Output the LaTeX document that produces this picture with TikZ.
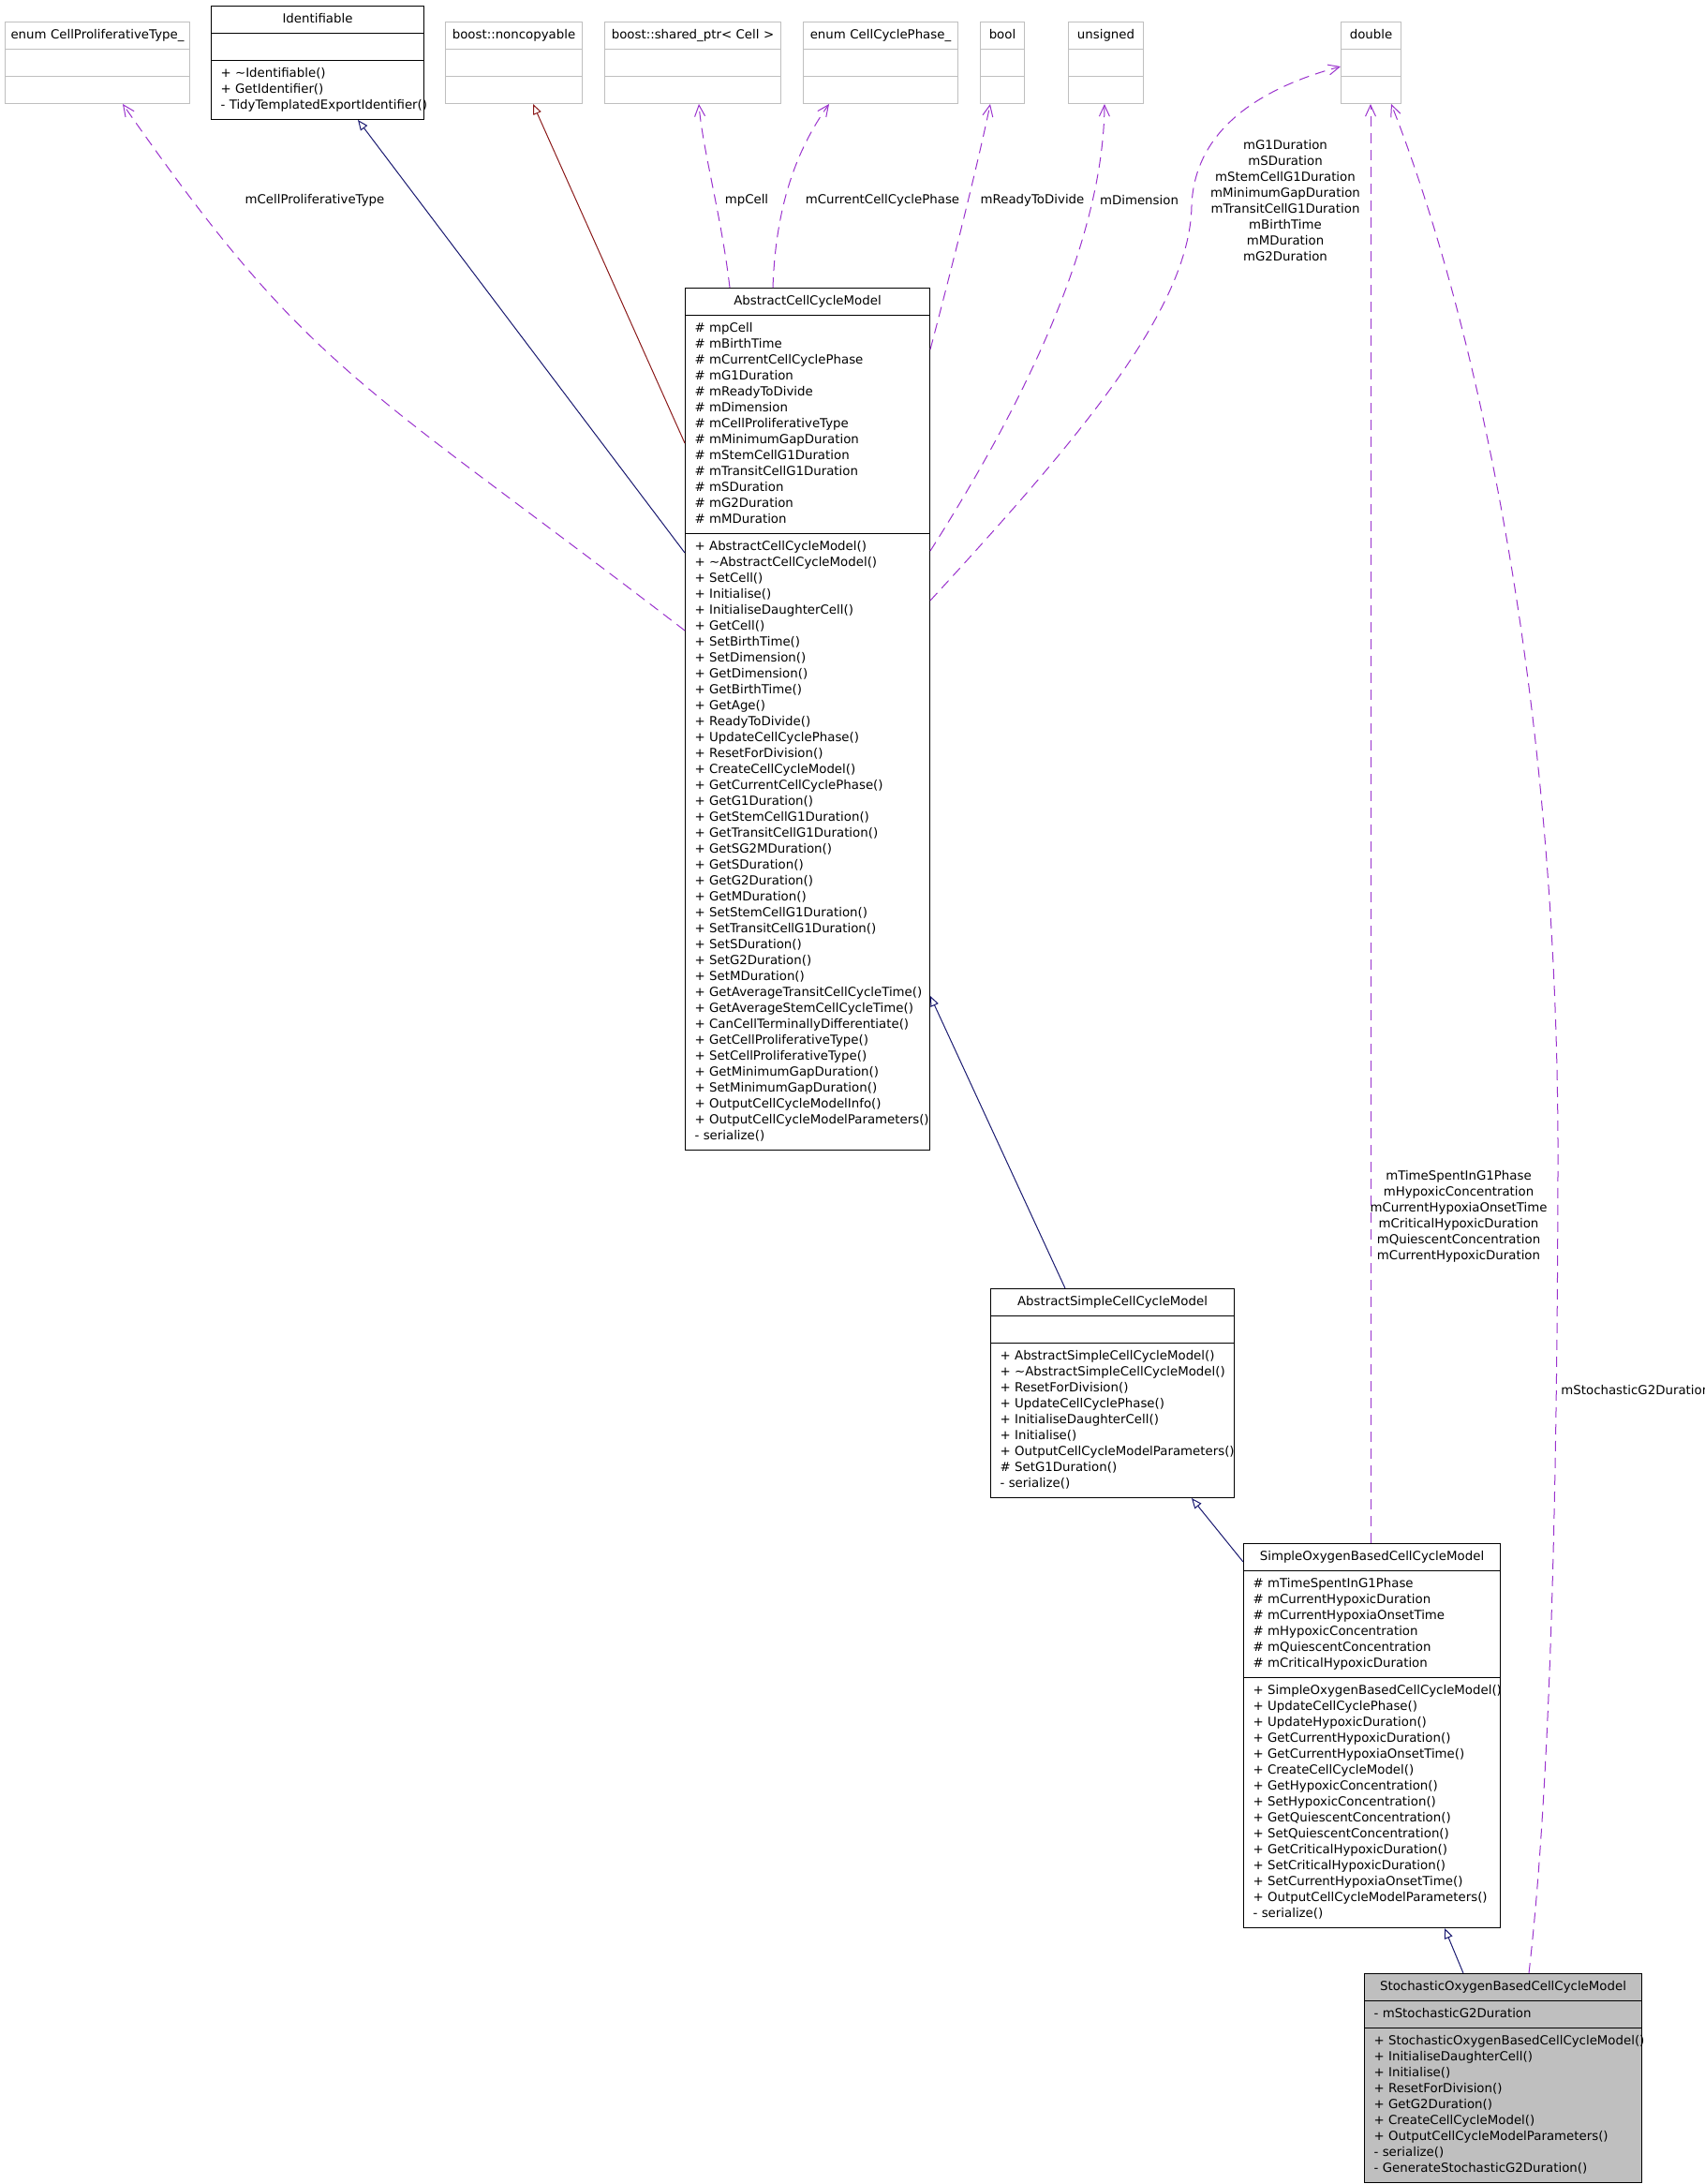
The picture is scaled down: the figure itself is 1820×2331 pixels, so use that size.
\documentclass[tikz,border=0pt]{standalone}
\usepackage{fontspec}
\newfontfamily\dvsans{DejaVu Sans}
\usepackage{xcolor}
\definecolor{midnight}{HTML}{191970}
\definecolor{firebrick}{HTML}{8B1A1A}
\definecolor{orchid}{HTML}{9A32CD}
\definecolor{boxgray}{HTML}{BFBFBF}
\usetikzlibrary{
    shapes.multipart,
    arrows.meta,
    calc
}
\setlength{\parindent}{0pt}
\newcommand\umlfont{\dvsans\fontsize{6.67pt}{8.5pt}\selectfont\hyphenpenalty=10000\exhyphenpenalty=10000}
\newcommand\umltitle[1]{\hbox to\hsize{\hss\strut#1\hss}}
\newcommand\mpub[1]{\strut+~#1}
\newcommand\mpro[1]{\strut\#~#1}
\newcommand\mpri[1]{\strut-~#1}

\begin{document}
\begin{tikzpicture}[
        x=0.5pt, y=-0.5pt,
        class/.style={rectangle split, rectangle split parts=3, draw=black, fill=white, anchor=north west, align=left, inner xsep=5pt, inner ysep=2.75pt, line width=0.5pt, font=\umlfont},
        ext/.style={class, draw=boxgray, inner xsep=4pt},
        focus/.style={class, fill=boxgray},
        pubinh/.style={-{Triangle[open, length=5.5pt, width=4.5pt]}, line width=0.5pt, draw=midnight},
        privinh/.style={pubinh, draw=firebrick},
        rel/.style={-{Straight Barb[length=6pt, width=5.5pt]}, line width=0.5pt, draw=orchid, dash pattern=on 5.5pt off 3.5pt},
        note/.style={font=\umlfont, align=center, inner sep=0pt}
    ]
        \useasboundingbox (0,0) rectangle (1820,2331);

        % used types along the top
        \node[ext, text width=90.5pt] (prolif) at (5,23) {\umltitle{enum CellProliferativeType\_}\nodepart{two}\strut\nodepart{three}\strut};
        \node[class, text width=103.5pt] (ident) at (225,6) {\umltitle{Identifiable}\nodepart{two}\strut\nodepart{three}\mpub{\textasciitilde Identifiable()}\\\mpub{GetIdentifier()}\\\mpri{TidyTemplatedExportIdentifier()}};
        \node[ext, text width=65pt] (noncopy) at (475,23) {\umltitle{boost::noncopyable}\nodepart{two}\strut\nodepart{three}\strut};
        \node[ext, text width=86pt] (cellptr) at (645,23) {\umltitle{boost::shared\_ptr< Cell >}\nodepart{two}\strut\nodepart{three}\strut};
        \node[ext, text width=74.5pt] (phase) at (857,23) {\umltitle{enum CellCyclePhase\_}\nodepart{two}\strut\nodepart{three}\strut};
        \node[ext, text width=15.5pt] (bool) at (1046,23) {\umltitle{bool}\nodepart{two}\strut\nodepart{three}\strut};
        \node[ext, text width=32pt] (unsigned) at (1140,23) {\umltitle{unsigned}\nodepart{two}\strut\nodepart{three}\strut};
        \node[ext, text width=24pt] (double) at (1431,23) {\umltitle{double}\nodepart{two}\strut\nodepart{three}\strut};

        % class hierarchy
        \node[class, text width=120.5pt] (accm) at (731,307) {\umltitle{AbstractCellCycleModel}
            \nodepart{two}\mpro{mpCell}\\\mpro{mBirthTime}\\\mpro{mCurrentCellCyclePhase}\\\mpro{mG1Duration}\\\mpro{mReadyToDivide}\\\mpro{mDimension}\\\mpro{mCellProliferativeType}\\\mpro{mMinimumGapDuration}\\\mpro{mStemCellG1Duration}\\\mpro{mTransitCellG1Duration}\\\mpro{mSDuration}\\\mpro{mG2Duration}\\\mpro{mMDuration}
            \nodepart{three}\mpub{AbstractCellCycleModel()}\\\mpub{\textasciitilde AbstractCellCycleModel()}\\\mpub{SetCell()}\\\mpub{Initialise()}\\\mpub{InitialiseDaughterCell()}\\\mpub{GetCell()}\\\mpub{SetBirthTime()}\\\mpub{SetDimension()}\\\mpub{GetDimension()}\\\mpub{GetBirthTime()}\\\mpub{GetAge()}\\\mpub{ReadyToDivide()}\\\mpub{UpdateCellCyclePhase()}\\\mpub{ResetForDivision()}\\\mpub{CreateCellCycleModel()}\\\mpub{GetCurrentCellCyclePhase()}\\\mpub{GetG1Duration()}\\\mpub{GetStemCellG1Duration()}\\\mpub{GetTransitCellG1Duration()}\\\mpub{GetSG2MDuration()}\\\mpub{GetSDuration()}\\\mpub{GetG2Duration()}\\\mpub{GetMDuration()}\\\mpub{SetStemCellG1Duration()}\\\mpub{SetTransitCellG1Duration()}\\\mpub{SetSDuration()}\\\mpub{SetG2Duration()}\\\mpub{SetMDuration()}\\\mpub{GetAverageTransitCellCycleTime()}\\\mpub{GetAverageStemCellCycleTime()}\\\mpub{CanCellTerminallyDifferentiate()}\\\mpub{GetCellProliferativeType()}\\\mpub{SetCellProliferativeType()}\\\mpub{GetMinimumGapDuration()}\\\mpub{SetMinimumGapDuration()}\\\mpub{OutputCellCycleModelInfo()}\\\mpub{OutputCellCycleModelParameters()}\\\mpri{serialize()}};
        \node[class, text width=120pt] (simple) at (1057,1375) {\umltitle{AbstractSimpleCellCycleModel}
            \nodepart{two}\strut
            \nodepart{three}\mpub{AbstractSimpleCellCycleModel()}\\\mpub{\textasciitilde AbstractSimpleCellCycleModel()}\\\mpub{ResetForDivision()}\\\mpub{UpdateCellCyclePhase()}\\\mpub{InitialiseDaughterCell()}\\\mpub{Initialise()}\\\mpub{OutputCellCycleModelParameters()}\\\mpro{SetG1Duration()}\\\mpri{serialize()}};
        \node[class, text width=127pt] (oxygen) at (1327,1647) {\umltitle{SimpleOxygenBasedCellCycleModel}
            \nodepart{two}\mpro{mTimeSpentInG1Phase}\\\mpro{mCurrentHypoxicDuration}\\\mpro{mCurrentHypoxiaOnsetTime}\\\mpro{mHypoxicConcentration}\\\mpro{mQuiescentConcentration}\\\mpro{mCriticalHypoxicDuration}
            \nodepart{three}\mpub{SimpleOxygenBasedCellCycleModel()}\\\mpub{UpdateCellCyclePhase()}\\\mpub{UpdateHypoxicDuration()}\\\mpub{GetCurrentHypoxicDuration()}\\\mpub{GetCurrentHypoxiaOnsetTime()}\\\mpub{CreateCellCycleModel()}\\\mpub{GetHypoxicConcentration()}\\\mpub{SetHypoxicConcentration()}\\\mpub{GetQuiescentConcentration()}\\\mpub{SetQuiescentConcentration()}\\\mpub{GetCriticalHypoxicDuration()}\\\mpub{SetCriticalHypoxicDuration()}\\\mpub{SetCurrentHypoxiaOnsetTime()}\\\mpub{OutputCellCycleModelParameters()}\\\mpri{serialize()}};
        \node[focus, text width=138pt] (stoch) at (1456,2106) {\umltitle{StochasticOxygenBasedCellCycleModel}
            \nodepart{two}\mpri{mStochasticG2Duration}
            \nodepart{three}\mpub{StochasticOxygenBasedCellCycleModel()}\\\mpub{InitialiseDaughterCell()}\\\mpub{Initialise()}\\\mpub{ResetForDivision()}\\\mpub{GetG2Duration()}\\\mpub{CreateCellCycleModel()}\\\mpub{OutputCellCycleModelParameters()}\\\mpri{serialize()}\\\mpri{GenerateStochasticG2Duration()}};

        % edge labels
        \node[note] (lblprolif) at (336,214) {mCellProliferativeType};
        \node[note] (lblcell) at (797,214) {mpCell};
        \node[note] (lblphase) at (942,214) {mCurrentCellCyclePhase};
        \node[note] (lblready) at (1102,214) {mReadyToDivide};
        \node[note] (lbldim) at (1216,214) {mDimension};
        \node[note] (lbldur) at (1372,214) {mG1Duration\\mSDuration\\mStemCellG1Duration\\mMinimumGapDuration\\mTransitCellG1Duration\\mBirthTime\\mMDuration\\mG2Duration};
        \node[note] (lblhyp) at (1557,1298) {mTimeSpentInG1Phase\\mHypoxicConcentration\\mCurrentHypoxiaOnsetTime\\mCriticalHypoxicDuration\\mQuiescentConcentration\\mCurrentHypoxicDuration};
        \node[note, anchor=west] (lblstoch) at (1666,1484) {mStochasticG2Duration};

        % inheritance
        \draw[pubinh] ($(accm.north west)+(0,283)$) -- ($(ident.south west)+(157,0)$);
        \draw[privinh] ($(accm.north west)+(0,166)$) -- ($(noncopy.south west)+(94,0)$);
        \draw[pubinh] ($(simple.north west)+(80,0)$) -- ($(accm.north east)+(0,756)$);
        \draw[pubinh] ($(oxygen.north west)+(0,20)$) -- ($(simple.south west)+(215,0)$);
        \draw[pubinh] ($(stoch.north west)+(106,0)$) -- ($(oxygen.south west)+(215,0)$);

        % members
        \draw[rel] ($(accm.north west)+(0,366)$) .. controls (381,404) and (331,398) .. ($(prolif.south west)+(126,0)$);
        \draw[rel] ($(accm.north west)+(48,0)$) .. controls (770,230) and (750,160) .. ($(cellptr.south west)+(101,0)$);
        \draw[rel] ($(accm.north west)+(94,0)$) .. controls (828,220) and (850,160) .. ($(phase.south west)+(28,0)$);
        \draw[rel] ($(accm.north east)+(0,66)$) .. controls (1015,290) and (1045,170) .. ($(bool.south west)+(11,0)$);
        \draw[rel] ($(accm.north east)+(0,281)$) .. controls (1100,420) and (1178,250) .. ($(unsigned.south west)+(39,0)$);
        \draw[rel] ($(accm.north east)+(0,334)$) .. controls (1150,470) and (1270,330) .. (1272,220) .. controls (1275,130) and (1360,90) .. ($(double.north west)+(0,48)$);
        \draw[rel] ($(oxygen.north west)+(136,0)$) -- ($(double.south west)+(32,0)$);
        \draw[rel] ($(stoch.north west)+(176,0)$) .. controls (1650,1950) and (1662,1700) .. (1663,1250) .. controls (1665,700) and (1560,300) .. ($(double.south west)+(54,0)$);
    \end{tikzpicture}
\end{document}
